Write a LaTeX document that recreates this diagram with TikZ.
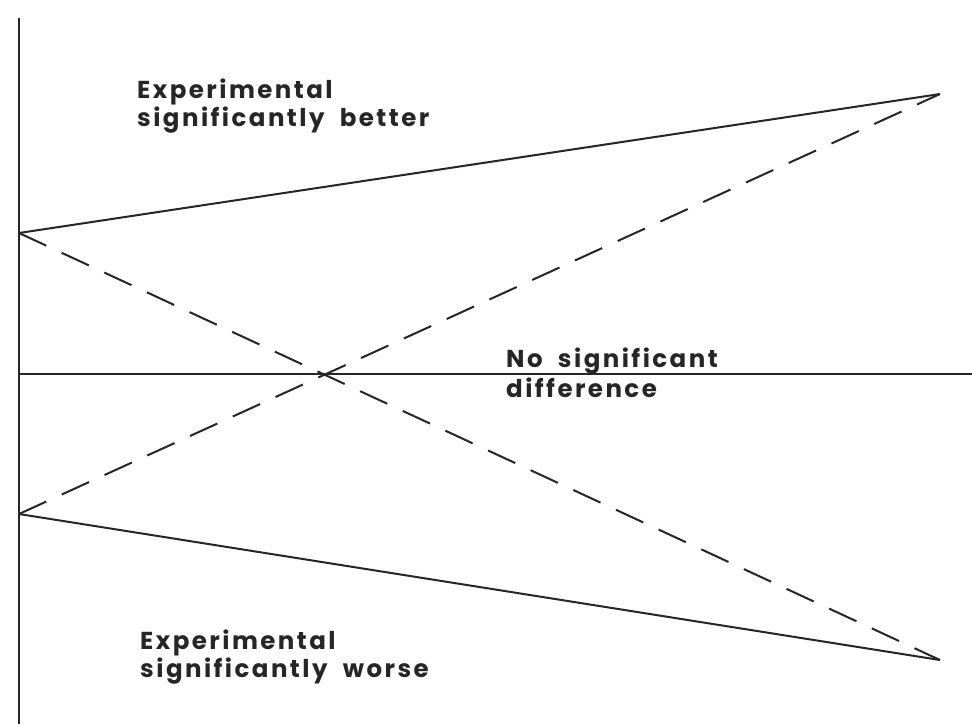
\documentclass[tikz,border=0pt]{standalone}
\usepackage{fontspec}
\setmainfont{Poppins}[LetterSpace=10]
\begin{document}
\begin{tikzpicture}[x=1pt,y=-1pt,
  solidline/.style={line width=2pt,draw=black!85},
  dashline/.style={line width=2pt,draw=black!85,dash pattern=on 30pt off 17pt},
  lbl/.style={anchor=base west,inner sep=0pt,text=black!85,font=\fontsize{24.5}{28}\selectfont\bfseries}]
\useasboundingbox[fill=white] (0,0) rectangle (972,724);
\coordinate (axtop) at (19,18);
\coordinate (axbot) at (19,724);
\coordinate (hl) at (19,374);
\coordinate (hr) at (972,374);
\coordinate (ul) at (19,233);
\coordinate (ll) at (19,514);
\coordinate (ur) at (940,94);
\coordinate (lr) at (940,660);
\draw[solidline] (axtop) -- (axbot);
\draw[solidline] (hl) -- (hr);
\draw[solidline] (ul) -- (ur);
\draw[solidline] (ll) -- (lr);
\draw[dashline] (ul) -- (lr);
\draw[dashline] (ll) -- (ur);
\node[lbl] (better1) at (137,98) {Experimental};
\node[lbl] (better2) at (137,126) {significantly\ \ better};
\node[lbl] (nodiff1) at (506,367) {No\ \ significant};
\node[lbl] (nodiff2) at (506,397) {difference};
\node[lbl] (worse1) at (140,649) {Experimental};
\node[lbl] (worse2) at (140,677) {significantly\ \ worse};
\end{tikzpicture}
\end{document}
